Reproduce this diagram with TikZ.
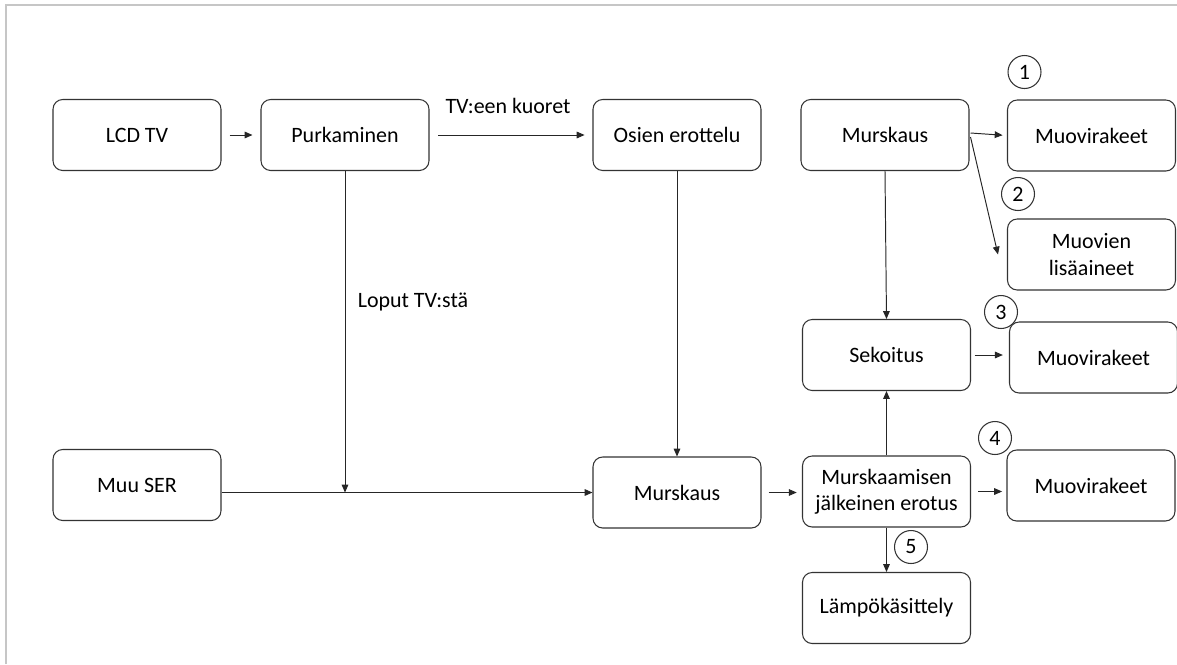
\documentclass[tikz,border=0pt]{standalone}
\usepackage{fontspec}
\setmainfont{Carlito}
\usetikzlibrary{arrows.meta,calc}

\tikzset{
  box/.style={draw=black!80, line width=0.6pt, rounded corners=5.5pt,
    minimum width=3.36cm, minimum height=1.42cm, align=center,
    font=\fontsize{12.5}{15}\selectfont},
  num/.style={draw=black!80, line width=0.6pt, circle, minimum size=0.66cm,
    inner sep=0pt, font=\fontsize{12.5}{14}\selectfont},
  lbl/.style={font=\fontsize{12.5}{14}\selectfont},
  flow/.style={draw=black!85, line width=0.55pt, -{Triangle[length=4.5pt,width=3.8pt]}},
}

\begin{document}
\begin{tikzpicture}[x=0.02cm,y=-0.02cm]
\useasboundingbox (0,0) rectangle (1177,664);
\draw [gray!45, line width=0.9pt] (6,664) -- (6,5) -- (1177,5);

% boxes
\node [box] (lcd) at (137,135) {LCD TV};
\node [box] (purk) at (345,135) {Purkaminen};
\node [box] (osien) at (677,135) {Osien erottelu};
\node [box] (murs1) at (885,135) {Murskaus};
\node [box] (muovi1) at (1091.5,135.5) {Muovirakeet};
\node [box] (lisa) at (1091.5,254.5) {Muovien\\lis\"aaineet};
\node [box] (sek) at (886.5,355) {Sekoitus};
\node [box] (muovi3) at (1093.5,357.5) {Muovirakeet};
\node [box] (muu) at (137,485) {Muu SER};
\node [box] (murs2) at (677,492.5) {Murskaus};
\node [box] (erotus) at (886.5,491.5) {Murskaamisen\\j\"alkeinen erotus};
\node [box] (muovi4) at (1091,485.5) {Muovirakeet};
\node [box] (lampo) at (886.5,608) {L\"amp\"ok\"asittely};

% numbers
\node [num] (n1) at (1024.5,72) {1};
\node [num] (n2) at (1018,194) {2};
\node [num] (n3) at (1001,312) {3};
\node [num] (n4) at (995,438) {4};
\node [num] (n5) at (911,547) {5};

% texts
\node [lbl] (kuoret) at (508,106) {TV:een kuoret};
\node [lbl] (loput) at (413,302) {Loput TV:st\"a};

% arrows
\draw [flow, shorten <=8pt*0.57, shorten >=8pt*0.57] (lcd.east) -- (purk.west);
\draw [flow, shorten <=5pt, shorten >=4.5pt] (purk.east) -- (osien.west);
\draw [flow, shorten >=2.5pt] ($(murs1.east)+(1,-2)$) -- (muovi1.west);
\draw [flow] ($(murs1.east)+(1,2)$) -- ($(lisa.west)+(-9,0)$);
\draw [flow] (osien.south) -- (murs2.north);
\draw [flow] (murs1.south) -- (sek.north);
\draw [flow] (erotus.north) -- (sek.south);
\draw [flow, shorten <=2pt, shorten >=3.5pt] (sek.east) -- (sek.east -| muovi3.west);
\draw [flow, shorten <=4pt, shorten >=3pt] (murs2.east) -- (murs2.east -| erotus.west);
\draw [flow, shorten <=4pt, shorten >=2.5pt] (erotus.east) -- (erotus.east -| muovi4.west);
\draw [flow] (erotus.south) -- (lampo.north);
\coordinate (join) at (purk.south |- murs2.west);
\draw [flow] (muu.east |- murs2.west) -- (murs2.west);
\draw [flow] (purk.south) -- (join);
\end{tikzpicture}
\end{document}
